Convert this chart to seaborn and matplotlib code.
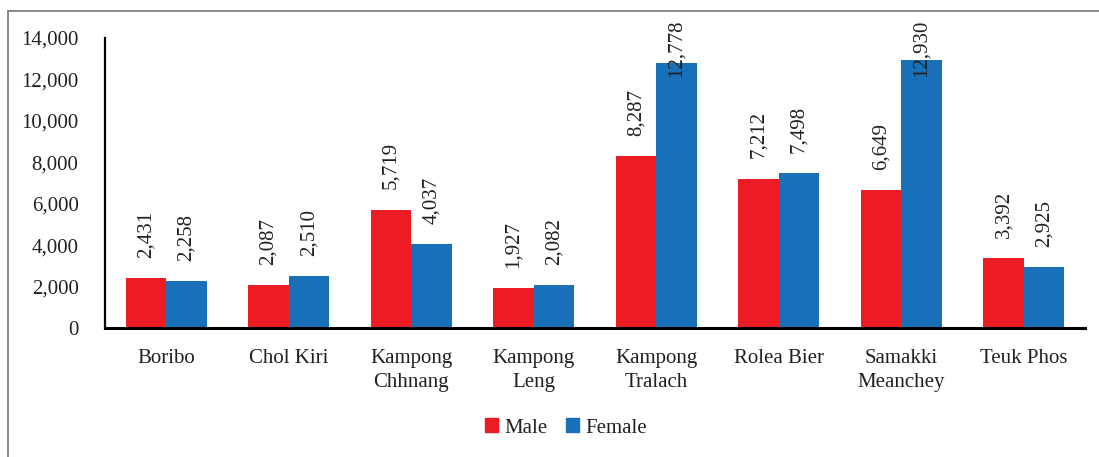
import matplotlib
matplotlib.use("Agg")
import matplotlib.pyplot as plt
from matplotlib.patches import Rectangle
from matplotlib.ticker import FuncFormatter
import pandas as pd
import seaborn as sns

# Population by district and sex
districts = ["Boribo", "Chol Kiri", "Kampong\nChhnang", "Kampong\nLeng",
             "Kampong\nTralach", "Rolea Bier", "Samakki\nMeanchey", "Teuk Phos"]
male = [2431, 2087, 5719, 1927, 8287, 7212, 6649, 3392]
female = [2258, 2510, 4037, 2082, 12778, 7498, 12930, 2925]
sexes = ["Male", "Female"]
colors = ["#ED1C24", "#1770B8"]

df = pd.DataFrame({
    "District": districts * 2,
    "Population": male + female,
    "Sex": ["Male"] * len(districts) + ["Female"] * len(districts),
})

sns.set_theme(style="white")
plt.rcParams["font.family"] = ["Liberation Serif", "DejaVu Serif"]
text_color = "#231F20"
fs = 15

fig = plt.figure(figsize=(10.99, 4.57), dpi=100)
ax = fig.add_axes([105 / 1099, 1 - 328 / 457, 980 / 1099, 290 / 457])

sns.barplot(data=df, x="District", y="Population", hue="Sex",
            hue_order=sexes, palette=colors, width=0.66, saturation=1,
            linewidth=0, ax=ax, legend=False)

ax.set_ylim(0, 14000)
ax.set_xlim(-0.5, len(districts) - 0.5)
ax.set_yticks(range(0, 14001, 2000))
ax.yaxis.set_major_formatter(FuncFormatter(lambda v, _: f"{int(v):,}"))
ax.set_xlabel("")
ax.set_ylabel("")
ax.tick_params(axis="y", length=0, pad=19, labelsize=fs, labelcolor=text_color)
ax.tick_params(axis="x", length=0, pad=15, labelsize=fs, labelcolor=text_color)
for lbl in ax.get_xticklabels():
    lbl.set_linespacing(1.35)

for side in ("top", "right"):
    ax.spines[side].set_visible(False)
ax.spines["left"].set_color("#000000")
ax.spines["left"].set_linewidth(1.6)
ax.spines["bottom"].set_color("#000000")
ax.spines["bottom"].set_linewidth(2.2)

# Vertical value labels above each bar, kept inside the plotting area
cap = 11150
for container, vals in zip(ax.containers, [male, female]):
    for bar, v in zip(container, vals):
        x = bar.get_x() + bar.get_width() / 2
        ax.annotate(f"{v:,}", (x, min(v, cap)), xytext=(0, 14.5),
                    textcoords="offset points", rotation=90,
                    ha="center", va="bottom", fontsize=fs,
                    color=text_color, annotation_clip=False)

handles = [Rectangle((0, 0), 1, 1, color=c) for c in colors]
fig.legend(handles, sexes, loc="center", bbox_to_anchor=(566 / 1099, 1 - 428 / 457),
           ncol=2, frameon=False, fontsize=fs, handlelength=0.62,
           handleheight=0.62, handletextpad=0.3, columnspacing=0.9,
           labelcolor=text_color)

# Outer chart frame (left and top edges)
fig.add_artist(Rectangle((8 / 1099, -0.2), 1.2, 1.2 - 11 / 457,
                         transform=fig.transFigure, fill=False,
                         edgecolor="#7F7F7F", linewidth=1.3))

fig.savefig("out.png", dpi=100)
